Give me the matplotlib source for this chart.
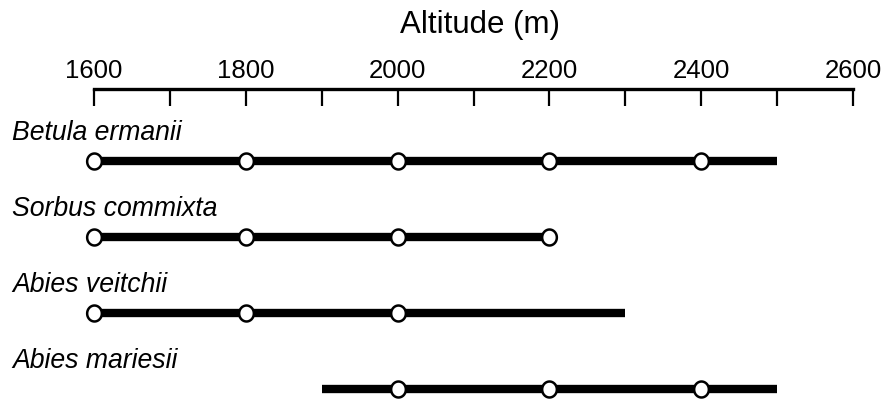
import matplotlib
matplotlib.use("Agg")
import matplotlib.pyplot as plt
import matplotlib.transforms as mtransforms
from matplotlib.path import Path
import numpy as np

plt.rcParams['font.family'] = ['Liberation Sans', 'DejaVu Sans']

species = ["Betula ermanii", "Sorbus commixta", "Abies veitchii", "Abies mariesii"]
range_low = [1600, 1600, 1600, 1900]
range_high = [2500, 2200, 2300, 2500]
sample_points = [
    [1600, 1800, 2000, 2200, 2400],
    [1600, 1800, 2000, 2200],
    [1600, 1800, 2000],
    [2000, 2200, 2400],
]
major_ticks = [1600, 1800, 2000, 2200, 2400, 2600]
minor_ticks = [1700, 1900, 2100, 2300, 2500]

W, H = 887, 402
fig = plt.figure(figsize=(W / 100, H / 100), dpi=100)
ax = fig.add_axes([94 / W, 0.0, (853 - 94) / W, 1 - 90 / H])

# ellipse marker (slightly taller than wide)
t = np.linspace(0, 2 * np.pi, 60)
ell = Path(np.column_stack([0.92 * np.cos(t), np.sin(t)]), closed=True)

rows = np.arange(1, len(species) + 1)
label_tr = mtransforms.blended_transform_factory(fig.transFigure, ax.transData)
for y, name, lo, hi, pts in zip(rows, species, range_low, range_high, sample_points):
    ax.plot([lo, hi], [y, y], color='black', lw=6, solid_capstyle='butt', zorder=2,
            clip_on=False)
    ax.plot(pts, [y] * len(pts), linestyle='none', marker=ell, markersize=11.5,
            markerfacecolor='white', markeredgecolor='black', markeredgewidth=1.8,
            zorder=3, clip_on=False)
    ax.text(12 / W, y - 0.38, name, transform=label_tr, fontsize=19.2,
            style='italic', va='center', ha='left')

ax.set_xlim(1600, 2600)
ax.set_ylim(4.16, 0.05)

ax.xaxis.tick_top()
ax.xaxis.set_label_position('top')
ax.set_xticks(major_ticks)
ax.set_xticks(minor_ticks, minor=True)
ax.set_xticklabels([str(v) for v in major_ticks], fontsize=18.5)
ax.tick_params(axis='x', which='both', direction='in', length=12.5, width=1.6, pad=5)
ax.set_yticks([])
for s in ['left', 'right', 'bottom']:
    ax.spines[s].set_visible(False)
ax.spines['top'].set_linewidth(2.4)
ax.set_xlabel('Altitude (m)', fontsize=22.5, labelpad=18.5)
ax.xaxis.label.set_x(0.508)
ax.patch.set_alpha(0)

fig.savefig('out.png', dpi=100)
